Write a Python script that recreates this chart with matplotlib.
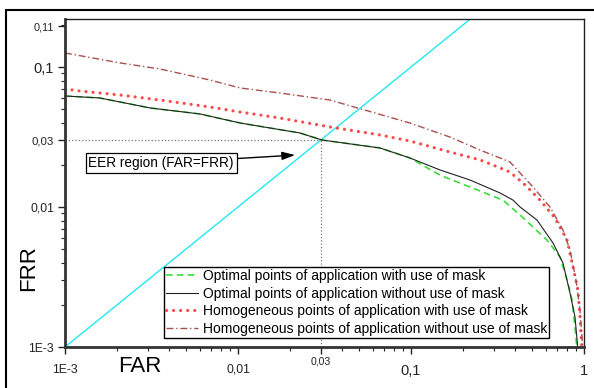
import numpy as np
import matplotlib
matplotlib.use("Agg")
import matplotlib.pyplot as plt
from matplotlib.patches import Rectangle
from matplotlib.transforms import ScaledTranslation

plt.rcParams["font.family"] = ["Liberation Sans", "DejaVu Sans"]

# FAR / FRR curves (log-log)
opt_mask_far = [0.001, 0.00159, 0.0031, 0.00603, 0.0103, 0.0228, 0.0306, 0.0662, 0.0986,
                0.147, 0.219, 0.340, 0.427, 0.611, 0.727, 0.798, 0.853, 0.887, 0.912]
opt_mask_frr = [0.0621, 0.0601, 0.0510, 0.0462, 0.0398, 0.0338, 0.0301, 0.0264, 0.0224,
                0.0169, 0.0139, 0.0112, 0.00877, 0.00581, 0.00439, 0.00301, 0.00217, 0.00139, 0.00095]

opt_nomask_far = [0.001, 0.00159, 0.0031, 0.00603, 0.0103, 0.0228, 0.0306, 0.0662, 0.0986,
                  0.147, 0.219, 0.327, 0.389, 0.427, 0.535, 0.662, 0.756, 0.830, 0.887, 0.923]
opt_nomask_frr = [0.0621, 0.0601, 0.0510, 0.0462, 0.0398, 0.0338, 0.0301, 0.0264, 0.0224,
                  0.0184, 0.0156, 0.0126, 0.0112, 0.0100, 0.00807, 0.00553, 0.00398, 0.00243, 0.00164, 0.00095]

hom_mask_far = [0.001, 0.00122, 0.00208, 0.00354, 0.00689, 0.0103, 0.0175, 0.034, 0.0662, 0.0986,
                0.168, 0.251, 0.373, 0.456, 0.557, 0.680, 0.798, 0.864, 0.923, 0.948, 0.973]
hom_mask_frr = [0.0697, 0.0674, 0.0631, 0.0581, 0.0518, 0.0477, 0.0432, 0.0373, 0.0327, 0.0296,
                0.0247, 0.0217, 0.0178, 0.0144, 0.0112, 0.00834, 0.00581, 0.00373, 0.00255, 0.00164, 0.00095]

hom_nomask_far = [0.001, 0.00208, 0.00354, 0.00689, 0.0103, 0.0175, 0.034, 0.0986, 0.168,
                  0.251, 0.373, 0.507, 0.636, 0.756, 0.830, 0.899, 0.948, 0.986]
hom_nomask_frr = [0.126, 0.107, 0.0968, 0.0807, 0.0708, 0.0652, 0.0581, 0.0398, 0.0316,
                  0.0255, 0.0210, 0.0139, 0.0100, 0.00685, 0.00493, 0.00301, 0.00184, 0.00095]

eer_line = [0.001, 1.0]
eer_value = 0.03

x_ticks = [0.001, 0.01, 0.03, 0.1, 1]
x_labels = ["1E-3", "0,01", "0,03", "0,1", "1"]
y_ticks = [0.001, 0.01, 0.03, 0.1, 0.196]
y_labels = ["1E-3", "0,01", "0,03", "0,1", "0,11"]

fig = plt.figure(figsize=(5.94, 3.88), dpi=100)
ax = fig.add_axes([65 / 594, 1 - 347 / 388, 519 / 594, 328 / 388])

ax.plot(eer_line, eer_line, color="#22e8f0", lw=1.0)
ax.plot([0.001, eer_value], [eer_value, eer_value], color="#777777", ls=":", lw=0.9)
ax.plot([eer_value, eer_value], [0.001, eer_value], color="#777777", ls=":", lw=0.9)

ax.plot(opt_mask_far, opt_mask_frr, color="#3ddc3d", ls=(0, (4, 2.5)), lw=1.2,
        label="Optimal points of application with use of mask")
ax.plot(opt_nomask_far, opt_nomask_frr, color="#222222", lw=0.8,
        label="Optimal points of application without use of mask")
ax.plot(hom_mask_far, hom_mask_frr, color="#ff4848", ls=(0, (0.01, 2.2)), lw=2.3,
        dash_capstyle="round", label="Homogeneous points of application with use of mask")
ax.plot(hom_nomask_far, hom_nomask_frr, color="#a85050", ls=(0, (5, 2, 1, 2)), lw=1.0,
        label="Homogeneous points of application without use of mask")

ax.set_xscale("log")
ax.set_yscale("log")
ax.set_xlim(0.001, 1)
ax.set_ylim(0.001, 0.2203)

ax.set_xticks(x_ticks)
ax.set_xticklabels(x_labels)
ax.set_yticks(y_ticks)
ax.set_yticklabels(y_labels)
ax.tick_params(which="major", direction="out", length=5, width=1, pad=7, colors="#222222")
ax.tick_params(axis="y", which="major", pad=3)
ax.tick_params(which="minor", direction="out", length=3, width=0.8, colors="#222222")

for lab, size in zip(ax.get_xticklabels(), [8.8, 8.8, 7.6, 10.5, 10.5]):
    lab.set_fontsize(size)
xl = ax.get_xticklabels()[2]
xl.set_transform(xl.get_transform() + ScaledTranslation(0, 7 / 100, fig.dpi_scale_trans))
for lab, size in zip(ax.get_yticklabels(), [8.8, 8.8, 8.2, 10.5, 7.8]):
    lab.set_fontsize(size)

for side in ["left", "bottom"]:
    ax.spines[side].set_linewidth(2)
    ax.spines[side].set_color("#333333")
for side in ["top", "right"]:
    ax.spines[side].set_linewidth(1)
    ax.spines[side].set_color("#222222")

ax.set_xlabel("FAR", fontsize=16)
ax.xaxis.set_label_coords(0.145, -0.058)
ax.xaxis.label.set_va("center")
ax.set_ylabel("FRR", fontsize=16)
ax.yaxis.set_label_coords(-0.071, 0.241)
ax.yaxis.label.set_va("center")

ax.annotate("EER region (FAR=FRR)", xy=(0.0214, 0.0235), xytext=(0.00359, 0.0206),
            ha="center", va="center", fontsize=9.8,
            bbox=dict(boxstyle="square,pad=0.2", fc="white", ec="black", lw=0.9),
            arrowprops=dict(arrowstyle="-|>,head_length=0.8,head_width=0.25", color="black", lw=1,
                            shrinkA=0, shrinkB=0))

leg = ax.legend(loc="lower right", bbox_to_anchor=(0.9326, 0.0274), fontsize=10,
                fancybox=False, framealpha=1, edgecolor="black", handlelength=2.3,
                handletextpad=0.35, labelspacing=0.26, borderpad=0.15, borderaxespad=0)
leg.get_frame().set_linewidth(1.0)

fig.add_artist(Rectangle((6 / 594, -0.1), 1.1, 1.1 - 10 / 388, transform=fig.transFigure,
                         fill=False, ec="black", lw=1.5))

fig.savefig("out.png", dpi=100)
